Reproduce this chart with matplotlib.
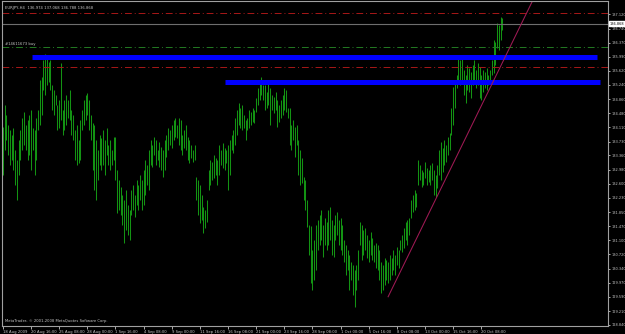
import matplotlib
matplotlib.use("Agg")
import matplotlib.pyplot as plt

# EURJPY H4 bars (high / low per bar)
highs = [
    134.12, 134.71, 134.44, 134.17, 134.04, 133.91, 134.09, 133.51, 133.24, 133.77,
    134.04, 134.36, 134.52, 134.17, 134.31, 134.44, 134.57, 134.09, 134.04, 134.36,
    134.57, 135.37, 135.45, 135.91, 136.07, 135.96, 135.85, 135.91, 135.24, 135.11,
    134.97, 134.71, 134.84, 135.83, 134.57, 134.84, 134.97, 134.84, 135.11, 134.57,
    134.44, 134.04, 134.17, 133.77, 134.31, 134.57, 134.84, 134.97, 135.03, 134.84,
    134.44, 134.23, 134.17, 133.77, 133.51, 133.91, 133.83, 134.04, 133.77, 134.09,
    133.64, 133.77, 133.51, 133.85, 133.85, 132.97, 132.70, 132.52, 132.30, 132.17,
    132.44, 132.04, 131.90, 132.44, 132.57, 132.30, 132.70, 132.57, 132.84, 132.70,
    132.97, 133.24, 133.11, 133.51, 133.77, 133.64, 133.85, 133.77, 133.51, 133.72,
    133.59, 133.51, 133.77, 133.91, 134.09, 134.04, 134.17, 134.31, 134.36, 134.17,
    134.36, 134.31, 133.91, 134.04, 134.17, 133.85, 133.77, 133.64, 133.51, 133.64,
    132.79, 132.70, 132.57, 132.30, 131.98, 131.90, 132.17, 132.97, 133.24, 133.19,
    133.37, 133.29, 133.24, 133.64, 133.51, 133.69, 133.56, 133.51, 133.64, 133.77,
    133.91, 134.04, 134.36, 134.57, 134.76, 134.63, 134.71, 134.44, 134.31, 134.36,
    134.57, 134.52, 134.63, 134.57, 134.89, 135.16, 135.37, 135.45, 135.24, 135.24,
    135.05, 135.29, 135.16, 134.97, 134.92, 135.05, 134.84, 134.71, 134.84, 134.97,
    135.16, 135.11, 134.63, 134.63, 134.17, 134.31, 134.12, 134.17, 133.77, 133.51,
    133.29, 132.79, 132.70, 132.17, 131.50, 131.48, 130.84, 131.10, 131.50, 131.64,
    131.77, 131.90, 131.50, 131.69, 131.58, 131.90, 131.98, 131.64, 131.50, 131.77,
    131.85, 131.64, 131.69, 131.50, 131.10, 130.97, 130.84, 130.70, 130.51, 130.43,
    130.30, 130.43, 130.84, 131.58, 131.50, 131.37, 131.42, 131.24, 131.10, 131.32,
    131.16, 130.97, 131.02, 130.97, 130.84, 130.51, 130.43, 130.62, 130.57, 130.51,
    130.70, 130.62, 130.84, 130.70, 130.91, 130.84, 131.10, 131.24, 131.42, 131.58,
    131.64, 131.69, 132.17, 132.30, 132.44, 132.36, 133.24, 133.11, 132.97, 132.92,
    133.19, 133.03, 132.97, 133.11, 133.16, 132.97, 132.84, 133.11, 133.51, 133.72,
    133.56, 133.77, 133.64, 133.85, 133.96, 134.63, 135.19, 135.37, 135.51, 135.99,
    135.91, 136.04, 135.64, 135.51, 135.77, 135.69, 135.59, 135.77, 135.91, 135.64,
    135.83, 135.72, 135.51, 135.64, 135.59, 135.69, 135.51, 135.64, 135.91, 136.44,
    136.39, 136.90, 136.84, 137.06, 137.03,
]
lows = [
    132.84, 133.51, 133.77, 133.37, 133.11, 133.24, 132.97, 132.57, 132.17, 132.84,
    133.24, 133.51, 133.64, 133.51, 133.24, 133.37, 132.97, 133.51, 132.84, 133.24,
    134.04, 134.17, 134.44, 135.11, 134.97, 135.24, 135.32, 135.11, 134.57, 134.44,
    134.71, 134.04, 134.09, 134.31, 133.91, 134.04, 134.17, 134.36, 134.31, 133.91,
    133.77, 133.24, 133.11, 133.16, 133.24, 134.04, 134.17, 134.31, 134.44, 134.04,
    133.77, 132.97, 132.44, 132.17, 132.70, 133.11, 132.97, 133.11, 132.84, 133.37,
    133.11, 132.97, 133.11, 133.24, 132.70, 131.82, 131.90, 131.77, 131.50, 131.02,
    131.37, 131.24, 131.10, 131.77, 131.90, 131.72, 132.04, 131.90, 132.17, 131.90,
    132.04, 132.30, 132.57, 132.44, 133.11, 133.05, 133.37, 133.11, 133.24, 133.05,
    132.97, 132.79, 132.97, 133.32, 133.51, 133.64, 133.56, 133.77, 133.85, 133.83,
    133.64, 133.51, 133.37, 133.56, 133.51, 133.24, 133.16, 133.29, 133.19, 133.24,
    132.17, 131.77, 131.56, 131.64, 131.29, 131.42, 131.58, 132.44, 132.57, 132.70,
    132.76, 132.84, 132.57, 132.84, 133.11, 133.03, 132.97, 133.16, 132.44, 132.84,
    133.51, 133.43, 133.64, 133.91, 134.17, 134.09, 134.04, 134.09, 133.77, 134.04,
    134.09, 134.17, 134.25, 134.23, 134.52, 134.71, 134.84, 134.97, 134.84, 134.57,
    134.63, 134.71, 134.17, 134.57, 134.49, 134.57, 134.12, 134.25, 134.36, 134.44,
    134.57, 134.52, 134.36, 133.64, 133.51, 133.77, 133.32, 133.64, 132.84, 132.57,
    132.62, 132.17, 131.90, 131.45, 130.70, 129.95, 129.77, 130.03, 130.30, 130.84,
    130.97, 131.10, 130.65, 130.97, 130.84, 130.97, 131.10, 130.70, 130.65, 131.10,
    131.24, 130.97, 130.84, 130.70, 130.51, 130.17, 130.30, 129.77, 130.03, 129.64,
    129.31, 129.77, 130.03, 130.97, 130.57, 130.70, 130.84, 130.62, 130.51, 130.70,
    130.57, 130.51, 130.35, 130.30, 130.03, 129.69, 129.77, 129.90, 130.03, 129.95,
    130.03, 130.17, 130.30, 130.17, 130.43, 130.35, 130.84, 130.78, 130.89, 131.10,
    130.97, 131.24, 131.69, 131.85, 131.90, 131.98, 132.57, 132.70, 132.52, 132.57,
    132.76, 132.57, 132.65, 132.57, 132.70, 132.30, 132.25, 132.49, 132.84, 132.70,
    132.92, 133.11, 133.19, 133.37, 133.51, 133.91, 134.17, 134.63, 135.16, 135.32,
    135.24, 135.37, 134.97, 134.76, 135.11, 135.05, 134.89, 135.24, 135.32, 135.16,
    135.24, 134.89, 134.84, 135.05, 135.16, 135.11, 135.24, 135.37, 135.51, 135.56,
    135.77, 136.23, 136.18, 136.44, 136.71,
]

# x axis labels, one every 16 H4 bars
date_labels = [
    "18 Aug 2009", "20 Aug 16:00", "25 Aug 08:00", "28 Aug 00:00", "1 Sep 16:00",
    "4 Sep 08:00", "9 Sep 00:00", "11 Sep 16:00", "16 Sep 08:00", "21 Sep 00:00",
    "23 Sep 16:00", "28 Sep 08:00", "1 Oct 00:00", "5 Oct 16:00", "8 Oct 08:00",
    "13 Oct 00:00", "15 Oct 16:00", "20 Oct 08:00",
]
price_ticks = [
    128.84, 129.21, 129.59, 129.97, 130.34, 130.72, 131.10, 131.47, 131.85, 132.23,
    132.60, 132.98, 133.36, 133.73, 134.11, 134.48, 134.86, 135.24, 135.62, 135.99,
    136.37, 136.74, 137.12,
]

# order / level lines
bid = 136.868
take_profit = 137.16
open_price = 136.24
stop_loss = 135.72
resist_1 = (135.99, 16.5, 338)     # price, from bar, to bar
resist_2 = (135.32, 126.2, 339.4)
trend_a = (219, 129.59)
trend_b = (284, 135.84)

fg = "#c8c8c8"
fs = 2.7
fig = plt.figure(figsize=(6.25, 3.34), dpi=100, facecolor="black")
ax = fig.add_axes([2 / 625, 8 / 334, 606 / 625, 325 / 334], facecolor="black")

idx = list(range(len(highs)))
ax.vlines(idx, lows, highs, colors="#139313", linewidth=0.75)

for y, c in [(take_profit, "#a81818"), (stop_loss, "#a81818"), (open_price, "#237a23")]:
    ax.axhline(y, color=c, linewidth=0.7, linestyle=(0, (7, 3, 1, 3)))
ax.axhline(bid, color="#6e6e6e", linewidth=0.8)

for p, x0, x1 in (resist_1, resist_2):
    ax.plot([x0, x1], [p, p], color="#0000ff", linewidth=3.6, solid_capstyle="butt")

slope = (trend_b[1] - trend_a[1]) / (trend_b[0] - trend_a[0])
x_end = 330
ax.plot([trend_a[0], x_end], [trend_a[1], trend_a[1] + slope * (x_end - trend_a[0])],
        color="#a01a55", linewidth=0.75)

ax.set_xlim(-0.5, 344)
ax.set_ylim(128.81, 137.48)

ax.set_xticks([16 * i for i in range(len(date_labels))])
ax.set_xticklabels(date_labels)
for lab in ax.get_xticklabels():
    lab.set_ha("left")
ax.yaxis.tick_right()
ax.set_yticks(price_ticks)
ax.set_yticklabels(["%.3f" % v for v in price_ticks])
ax.tick_params(axis="both", colors=fg, labelsize=fs, length=2, width=0.6, pad=1)
ax.tick_params(axis="y", labelsize=2.5, length=1.5, pad=0.8)
for s in ax.spines.values():
    s.set_color("#a0a0a0")
    s.set_linewidth(0.8)

ax.text(0.005, 0.985, "EURJPY,H4  136.974 137.068 136.788 136.868", transform=ax.transAxes,
        color=fg, fontsize=fs, va="top", ha="left")
ax.text(1, open_price + 0.03, "#14611673 buy", color=fg, fontsize=fs, va="bottom", ha="left")
ax.text(0.005, 0.008, "MetaTrader, \u00a9 2001-2008 MetaQuotes Software Corp.", transform=ax.transAxes,
        color=fg, fontsize=fs, va="bottom", ha="left")
ax.annotate("136.868", xy=(1, bid), xycoords=("axes fraction", "data"), xytext=(1.0, 0),
            textcoords="offset points", fontsize=2.5, color="black", va="center", ha="left",
            bbox=dict(boxstyle="square,pad=0.15", fc="white", ec="white"))

fig.savefig("out.png", dpi=100, facecolor="black")
